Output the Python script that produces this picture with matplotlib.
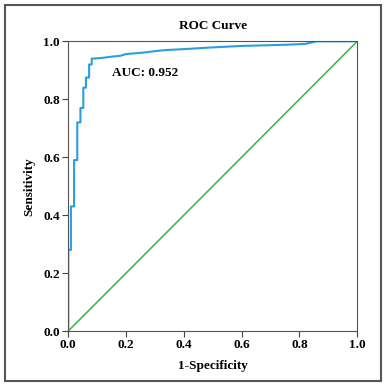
"""ROC curve with diagonal reference line and AUC annotation."""

import matplotlib

matplotlib.use("Agg")
import matplotlib.pyplot as plt
from matplotlib.patches import Rectangle

# step-wise ROC points
fpr = [0.0, 0.0, 0.009, 0.009, 0.02, 0.02, 0.031, 0.031, 0.042, 0.042,
       0.052, 0.052, 0.061, 0.061, 0.072, 0.072, 0.081, 0.081,
       0.12, 0.15, 0.18, 0.2, 0.26, 0.3, 0.34, 0.4, 0.5, 0.6, 0.75, 0.82, 0.86, 1.0]
tpr = [0.0, 0.28, 0.28, 0.43, 0.43, 0.59, 0.59, 0.72, 0.72, 0.77,
       0.77, 0.84, 0.84, 0.875, 0.875, 0.92, 0.92, 0.94,
       0.943, 0.947, 0.95, 0.956, 0.961, 0.966, 0.97, 0.973, 0.979, 0.984, 0.988, 0.991, 1.0, 1.0]
diag = [0.0, 1.0]
auc_text = "AUC: 0.952"
ticks = [0.0, 0.2, 0.4, 0.6, 0.8, 1.0]

plt.rcParams["font.family"] = ["Liberation Serif", "DejaVu Serif"]
plt.rcParams["font.weight"] = "bold"

fig = plt.figure(figsize=(3.84, 3.85), dpi=100)
ax = fig.add_axes([68.3 / 384, 1 - 331 / 385, 289 / 384, 289.7 / 385])

ax.plot(diag, diag, color="#3bb04a", linewidth=1.1)
ax.plot(fpr, tpr, color="#2a9fe0", linewidth=1.5)

ax.text(0.152, 0.89, auc_text, fontsize=9.5, fontweight="bold", va="center")

ax.set_xlim(0, 1)
ax.set_ylim(0, 1)
ax.set_xticks(ticks)
ax.set_yticks(ticks)
ax.set_xticklabels([f"{t:.1f}" for t in ticks], fontsize=9.5, fontweight="bold")
ax.set_yticklabels([f"{t:.1f}" for t in ticks], fontsize=9.5, fontweight="bold")
ax.tick_params(direction="out", length=4, width=0.8, color="#444444", pad=2)
for s in ax.spines.values():
    s.set_color("#555555")
    s.set_linewidth(0.8)

ax.set_xlabel("1-Specificity", fontsize=9.5, fontweight="bold", labelpad=6)
ax.set_ylabel("Sensitivity", fontsize=9.5, fontweight="bold", labelpad=6)
ax.set_title("ROC Curve", fontsize=9.5, fontweight="bold", pad=9)

# outer frame around the whole figure
fig.patches.append(Rectangle((5 / 384, 4.5 / 385), 375.5 / 384, 376 / 385,
                             transform=fig.transFigure, fill=False,
                             edgecolor="#555555", linewidth=1.5))

fig.savefig("out.png", dpi=100)
